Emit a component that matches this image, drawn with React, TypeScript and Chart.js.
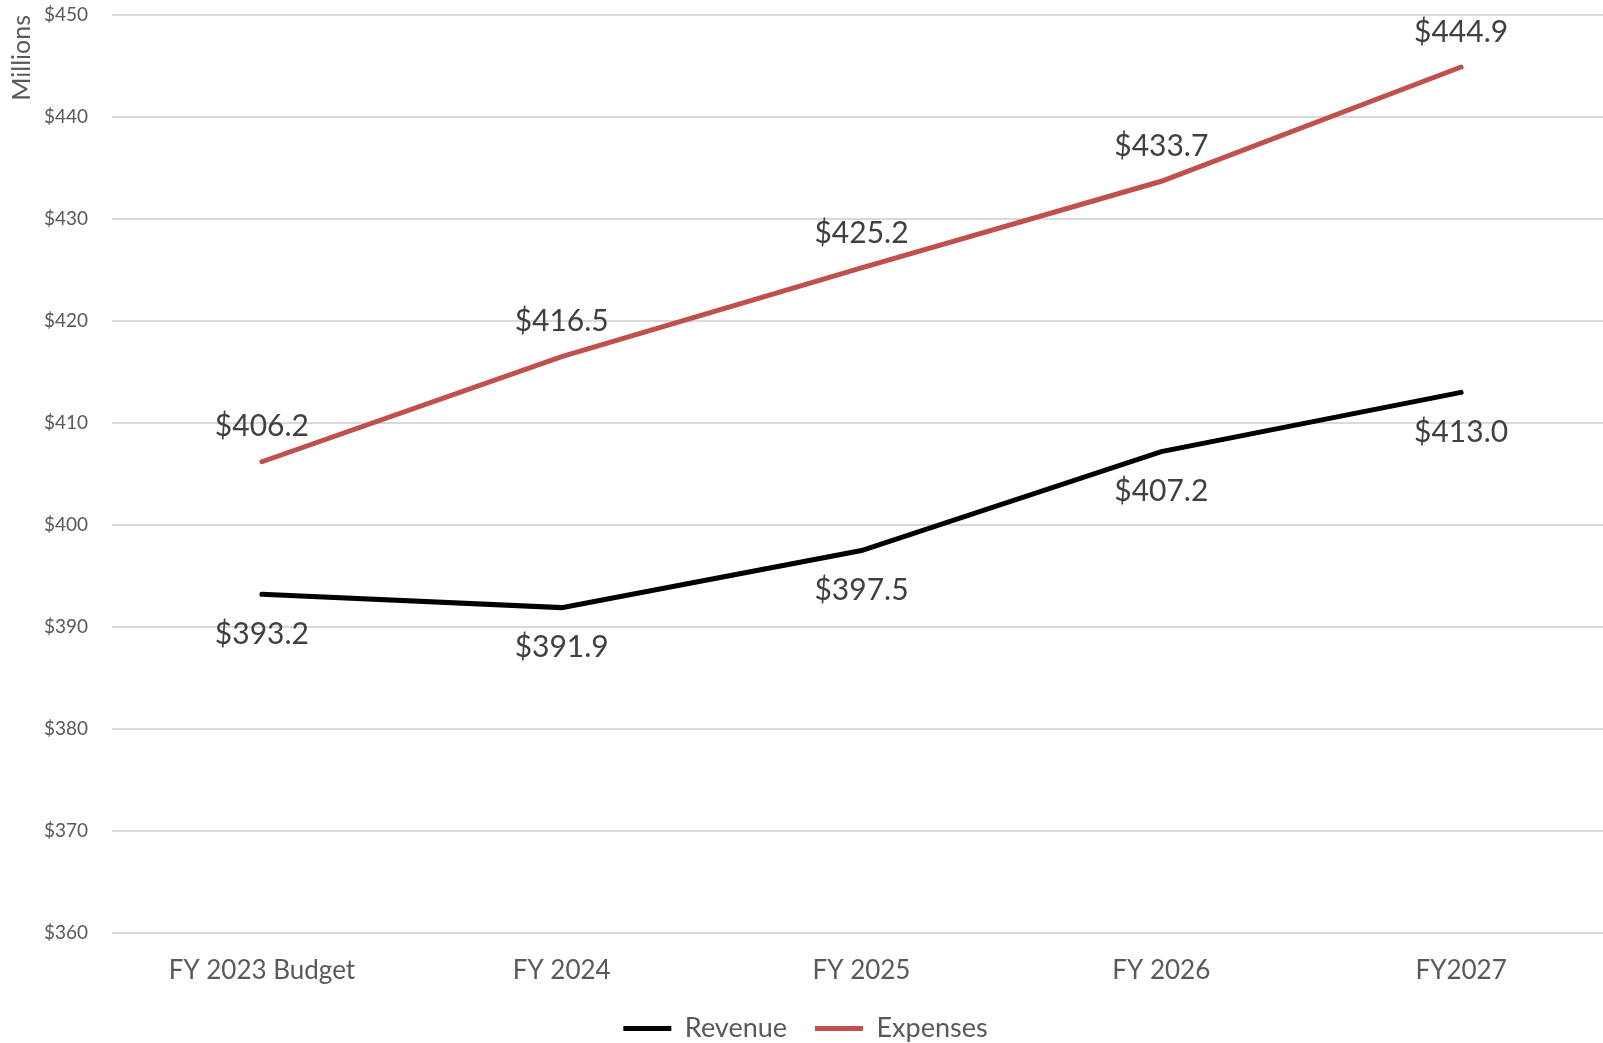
import React, { useEffect, useRef } from "react";
import { Chart, registerables } from "chart.js";

Chart.register(...registerables);

const categories = ["FY 2023 Budget", "FY 2024", "FY 2025", "FY 2026", "FY2027"];
const revenue = [393.2, 391.9, 397.5, 407.2, 413.0];
const expenses = [406.2, 416.5, 425.2, 433.7, 444.9];

const FONT = "Lato, 'Open Sans', sans-serif";

// Draws each series' values above (expenses) or below (revenue) its points
const valueLabels = {
  id: "valueLabels",
  afterDatasetsDraw(chart: any) {
    const ctx = chart.ctx;
    ctx.save();
    ctx.font = `30px ${FONT}`;
    ctx.fillStyle = "#404040";
    ctx.textAlign = "center";
    ctx.textBaseline = "middle";
    chart.data.datasets.forEach((ds: any, i: number) => {
      const meta = chart.getDatasetMeta(i);
      const offset = ds.label === "Expenses" ? -35 : 40;
      meta.data.forEach((pt: any, j: number) => {
        ctx.fillText("$" + Number(ds.data[j]).toFixed(1), pt.x, pt.y + offset);
      });
    });
    ctx.restore();
  },
};

const W = 1611;
const H = 1052;

export default function App() {
  const ref = useRef<HTMLCanvasElement>(null);

  useEffect(() => {
    document.body.style.margin = "0";
    document.body.style.overflow = "hidden";
    const chart = new Chart(ref.current!, {
      type: "line",
      data: {
        labels: categories,
        datasets: [
          {
            label: "Revenue",
            data: revenue,
            borderColor: "#000000",
            backgroundColor: "#000000",
            borderWidth: 5,
            borderCapStyle: "round",
            pointRadius: 0,
            tension: 0,
          },
          {
            label: "Expenses",
            data: expenses,
            borderColor: "#C0504D",
            backgroundColor: "#C0504D",
            borderWidth: 5,
            borderCapStyle: "round",
            pointRadius: 0,
            tension: 0,
          },
        ],
      },
      options: {
        animation: false,
        responsive: false,
        maintainAspectRatio: false,
        layout: { padding: { top: 15, right: 0, left: 0, bottom: 0 } },
        plugins: {
          tooltip: { enabled: false },
          legend: {
            position: "bottom",
            labels: {
              usePointStyle: true,
              pointStyle: "line",
              pointStyleWidth: 48,
              padding: 28,
              color: "#595959",
              font: { family: FONT, size: 27 },
            },
          },
        },
        scales: {
          x: {
            offset: true,
            grid: { display: false, drawTicks: false },
            border: { display: false },
            ticks: {
              color: "#595959",
              font: { family: FONT, size: 26 },
              padding: 22,
              maxRotation: 0,
            },
            afterFit(scale: any) {
              scale.height = 54;
            },
          },
          y: {
            min: 360,
            max: 450,
            grid: { color: "#d9d9d9", lineWidth: 2, drawTicks: false },
            border: { display: false },
            ticks: {
              stepSize: 10,
              color: "#595959",
              font: { family: FONT, size: 19 },
              padding: 24,
              callback: (v: any) => "$" + v,
            },
            title: {
              display: true,
              text: "Millions",
              align: "end",
              color: "#595959",
              font: { family: FONT, size: 25 },
              padding: { top: 7, bottom: 0 },
            },
            afterFit(scale: any) {
              scale.width = 112;
              // the tick padding should only push labels sideways, not shrink the plot
              scale.paddingTop = 0;
              scale.paddingBottom = 0;
            },
          },
        },
      },
      plugins: [valueLabels],
    });
    return () => chart.destroy();
  }, []);

  return (
    <div style={{ width: 1603, height: 1043, overflow: "hidden" }}>
      <canvas ref={ref} width={W} height={H} style={{ display: "block" }} />
    </div>
  );
}
